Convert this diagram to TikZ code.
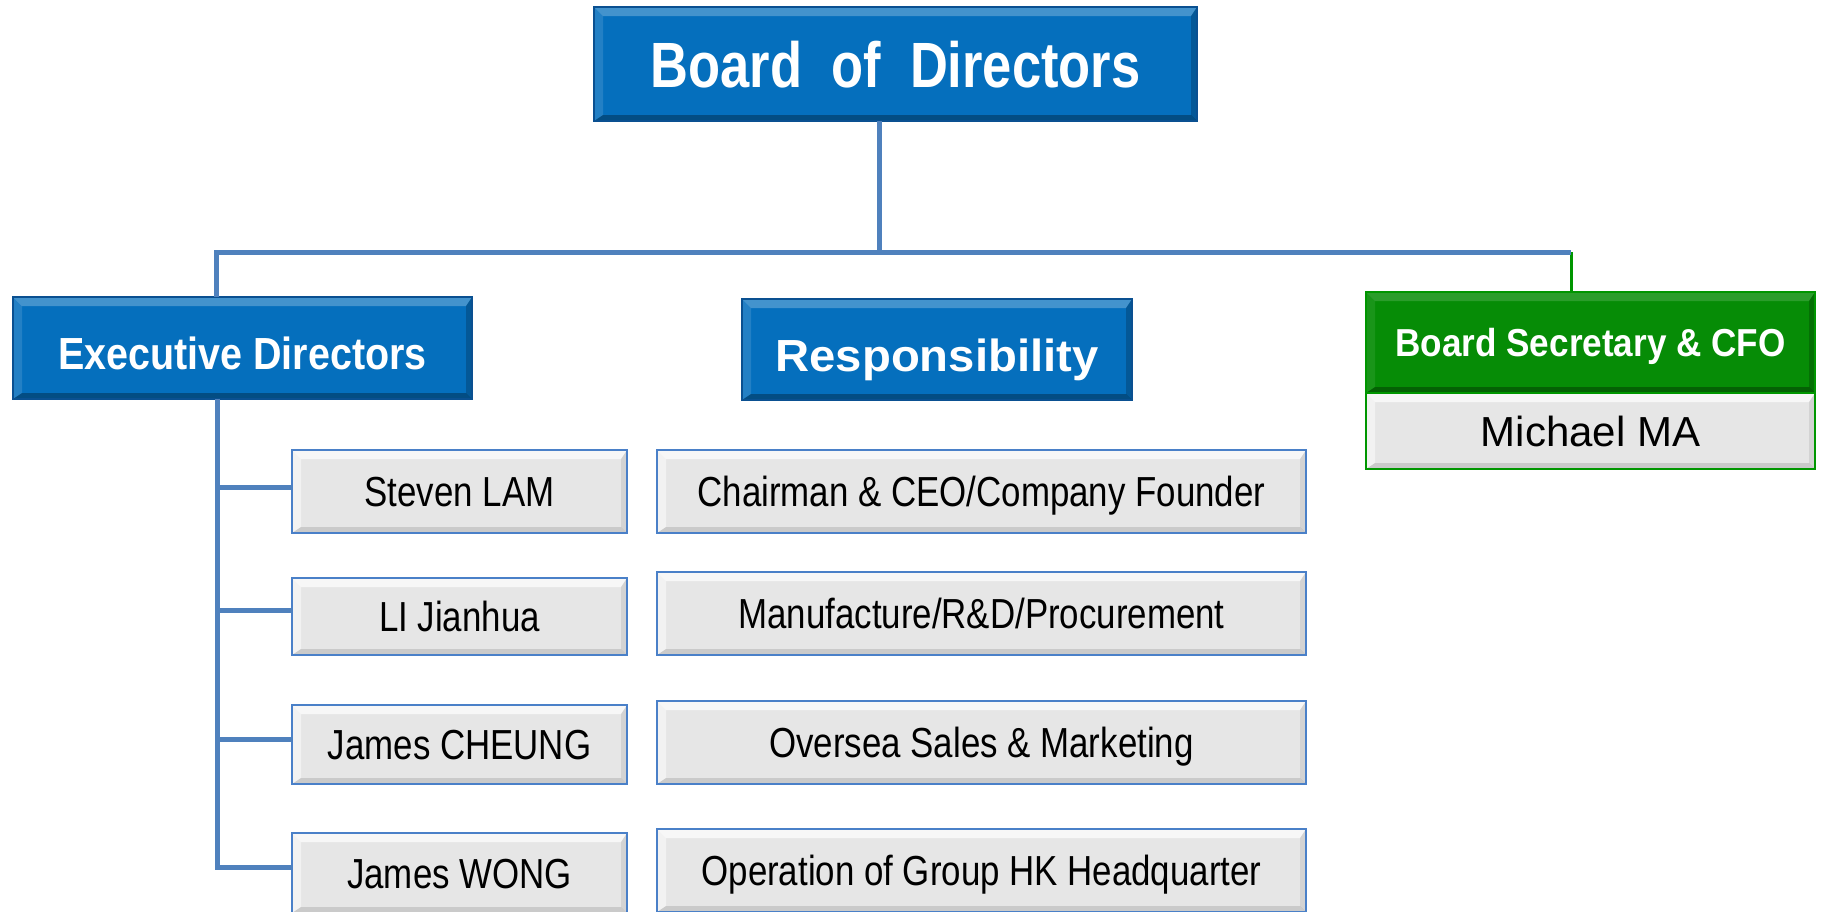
\documentclass[tikz,border=0pt]{standalone}
\usepackage{fontspec}
\setmainfont{Liberation Sans}
\usepackage{graphicx}
\definecolor{bodblue}{RGB}{5,111,189}
\definecolor{bluedge}{RGB}{10,80,145}
\definecolor{conblue}{RGB}{79,129,189}
\definecolor{boxedge}{RGB}{74,128,200}
\definecolor{boxgray}{RGB}{230,230,230}
\definecolor{secgreen}{RGB}{6,140,6}
\definecolor{greenedge}{RGB}{0,150,0}
\newcommand{\fs}[1]{\fontsize{#1}{#1}\selectfont}
\tikzset{
  bevel/.style n args={4}{path picture={
    \fill[white,opacity=#1] (path picture bounding box.north west) -- (path picture bounding box.north east) -- ([xshift=-6pt,yshift=-9pt]path picture bounding box.north east) -- ([xshift=9pt,yshift=-9pt]path picture bounding box.north west) -- cycle;
    \fill[white,opacity=#2] (path picture bounding box.north west) -- ([xshift=9pt,yshift=-9pt]path picture bounding box.north west) -- ([xshift=9pt,yshift=6pt]path picture bounding box.south west) -- (path picture bounding box.south west) -- cycle;
    \fill[black,opacity=#3] (path picture bounding box.south west) -- ([xshift=9pt,yshift=6pt]path picture bounding box.south west) -- ([xshift=-6pt,yshift=6pt]path picture bounding box.south east) -- (path picture bounding box.south east) -- cycle;
    \fill[black,opacity=#4] (path picture bounding box.south east) -- ([xshift=-6pt,yshift=6pt]path picture bounding box.south east) -- ([xshift=-6pt,yshift=-9pt]path picture bounding box.north east) -- (path picture bounding box.north east) -- cycle;
  }},
  box/.style={rectangle, inner sep=0pt, outer sep=0pt, text depth=0pt, align=center},
  bluebox/.style={box, fill=bodblue, draw=bluedge, line width=1.5pt, text=white, bevel={0.25}{0.12}{0.3}{0.2}},
  greenbox/.style={box, fill=secgreen, draw=greenedge, line width=2pt, text=white, bevel={0.15}{0.08}{0.3}{0.2}},
  graybox/.style={box, fill=boxgray, draw=boxedge, line width=2.5pt, text=black, bevel={0.7}{0.5}{0.12}{0.08}},
  person/.style={graybox, minimum width=335pt, font={\fs{42}}, text height=30pt},
  duty/.style={graybox, minimum width=649pt, minimum height=83pt, font={\fs{42}}, text height=30pt},
  conn/.style={draw=conblue, line width=5pt},
  gconn/.style={draw=greenedge, line width=3pt},
}
\begin{document}
\begin{tikzpicture}[x=1pt,y=-1pt]
\useasboundingbox (0,0) rectangle (1824,911);
\coordinate (jc) at (879,252);
\coordinate (hl) at (216,252);
\coordinate (hr) at (1571,252);
\coordinate (tt) at (217,399);
% boxes
\node[bluebox, minimum width=603pt, minimum height=114pt, font={\fs{64}\bfseries}, text height=46pt] (bod) at (895.5,64) {\scalebox{0.82}[1]{Board\ \ of\ \ Directors}};
\node[bluebox, minimum width=459pt, minimum height=102pt, font={\fs{45}\bfseries}, text height=42pt] (ed) at (242.5,348) {\scalebox{0.877}[1]{Executive Directors}};
\node[bluebox, minimum width=390pt, minimum height=101pt, font={\fs{45}\bfseries}, text height=44pt] (resp) at (937,349.5) {\scalebox{1.05}[1]{Responsibility}};
\node[greenbox, minimum width=449pt, minimum height=101pt, font={\fs{39}\bfseries}, text height=28pt] (bsc) at (1590.5,342.5) {\scalebox{0.9}[1]{Board Secretary \& CFO}};
\node[graybox, draw=greenedge, minimum width=449pt, minimum height=76pt, font={\fs{42}}, text height=30pt] (mma) at (1590.5,431) {Michael MA};

\node[person, minimum height=83pt] (p1) at (459.5,491.5) {\scalebox{0.83}[1]{Steven LAM}};
\node[person, minimum height=77pt] (p2) at (459.5,616.5) {\scalebox{0.83}[1]{LI Jianhua}};
\node[person, minimum height=79pt] (p3) at (459.5,744.5) {\scalebox{0.83}[1]{James CHEUNG}};
\node[person, minimum height=80pt] (p4) at (459.5,873) {\scalebox{0.83}[1]{James WONG}};

\node[duty] (r1) at (981.5,491.5) {\scalebox{0.83}[1]{Chairman \& CEO/Company Founder}};
\node[duty] (r2) at (981.5,613.5) {\scalebox{0.83}[1]{Manufacture/R\&D/Procurement}};
\node[duty] (r3) at (981.5,742.5) {\scalebox{0.83}[1]{Oversea Sales \& Marketing}};
\node[duty] (r4) at (981.5,870.5) {\scalebox{0.83}[1]{Operation of Group HK Headquarter}};

% connectors
\draw[conn] (bod.south -| jc) -- (jc);
\draw[gconn] (hr) -- (hr |- bsc.north);
\draw[conn] (hr) -- (hl) -- (hl |- ed.north);
\draw[conn] (tt) |- ([yshift=6pt]p4.west);
\draw[conn] ([yshift=4pt]p1.west) -- ([yshift=4pt]p1.west -| tt);
\draw[conn] ([yshift=6pt]p2.west) -- ([yshift=6pt]p2.west -| tt);
\draw[conn] ([yshift=5pt]p3.west) -- ([yshift=5pt]p3.west -| tt);
\end{tikzpicture}
\end{document}
